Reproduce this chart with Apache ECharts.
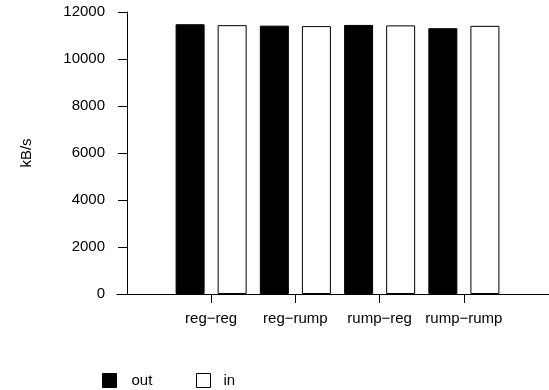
<!DOCTYPE html>
<html>
<head>
<meta charset="utf-8">
<script src="https://cdn.jsdelivr.net/npm/echarts@6/dist/echarts.min.js"></script>
<style>html,body{margin:0;padding:0;background:#fff;}#c{width:549px;height:390px;}</style>
</head>
<body>
<div id="c"></div>
<script>
var categories = ['reg\u2212reg', 'reg\u2212rump', 'rump\u2212reg', 'rump\u2212rump'];
var outValues = [11480, 11420, 11450, 11310];
var inValues = [11440, 11400, 11430, 11410];
var yTicks = [0, 2000, 4000, 6000, 8000, 10000, 12000];

var FONT = '"Liberation Sans", Arial, Helvetica, sans-serif';
var chart = echarts.init(document.getElementById('c'), null, {renderer: 'canvas'});
chart.setOption({
  animation: false,
  backgroundColor: '#ffffff',
  textStyle: {fontFamily: FONT},
  grid: [
    {left: 169, right: 43, top: 12, bottom: 96},
    {left: 117, right: 0, top: 12, bottom: 96}
  ],
  legend: [
    {
      data: [{name: 'out', icon: 'rect', itemStyle: {color: '#000', borderColor: '#000', borderWidth: 1}}],
      left: 97, top: 368, itemWidth: 14, itemHeight: 14,
      textStyle: {fontFamily: FONT, fontSize: 15, color: '#000', padding: [0, 0, 0, 10]}
    },
    {
      data: [{name: 'in', icon: 'rect', itemStyle: {color: '#fff', borderColor: '#000', borderWidth: 1}}],
      left: 191, top: 368, itemWidth: 14, itemHeight: 14,
      textStyle: {fontFamily: FONT, fontSize: 15, color: '#000', padding: [0, 0, 0, 8]}
    }
  ],
  xAxis: [
    {
      type: 'category', gridIndex: 0, data: categories,
      axisLine: {show: false},
      axisTick: {show: true, alignWithLabel: true, length: 9, lineStyle: {color: '#000'}},
      axisLabel: {fontFamily: FONT, fontSize: 15, color: '#000', margin: 17, interval: 0},
      splitLine: {show: false}
    },
    {
      type: 'value', gridIndex: 1, min: 0, max: 1,
      axisLine: {show: true, onZero: false, lineStyle: {color: '#000', width: 1}},
      axisTick: {show: false}, axisLabel: {show: false}, splitLine: {show: false}
    }
  ],
  yAxis: [
    {
      type: 'value', gridIndex: 0, min: yTicks[0], max: yTicks[yTicks.length - 1], interval: 2000,
      position: 'left', offset: 42,
      name: 'kB/s', nameLocation: 'middle', nameGap: 93,
      nameTextStyle: {fontFamily: FONT, fontSize: 15, color: '#000'},
      axisLine: {show: true, lineStyle: {color: '#000', width: 1}},
      axisTick: {show: true, length: 9, lineStyle: {color: '#000'}},
      axisLabel: {fontFamily: FONT, fontSize: 15, color: '#000', margin: 22,
        formatter: function (v) { return String(v); }},
      splitLine: {show: false}
    },
    {
      type: 'value', gridIndex: 1, min: 0, max: 1, show: false
    }
  ],
  series: [
    {
      name: 'out', type: 'bar', xAxisIndex: 0, yAxisIndex: 0, data: outValues,
      barWidth: 29, barGap: '45%',
      itemStyle: {color: '#000', borderColor: '#000', borderWidth: 1}
    },
    {
      name: 'in', type: 'bar', xAxisIndex: 0, yAxisIndex: 0, data: inValues,
      barWidth: 29, barGap: '45%',
      itemStyle: {color: '#fff', borderColor: '#000', borderWidth: 1}
    }
  ]
});
</script>
</body>
</html>
